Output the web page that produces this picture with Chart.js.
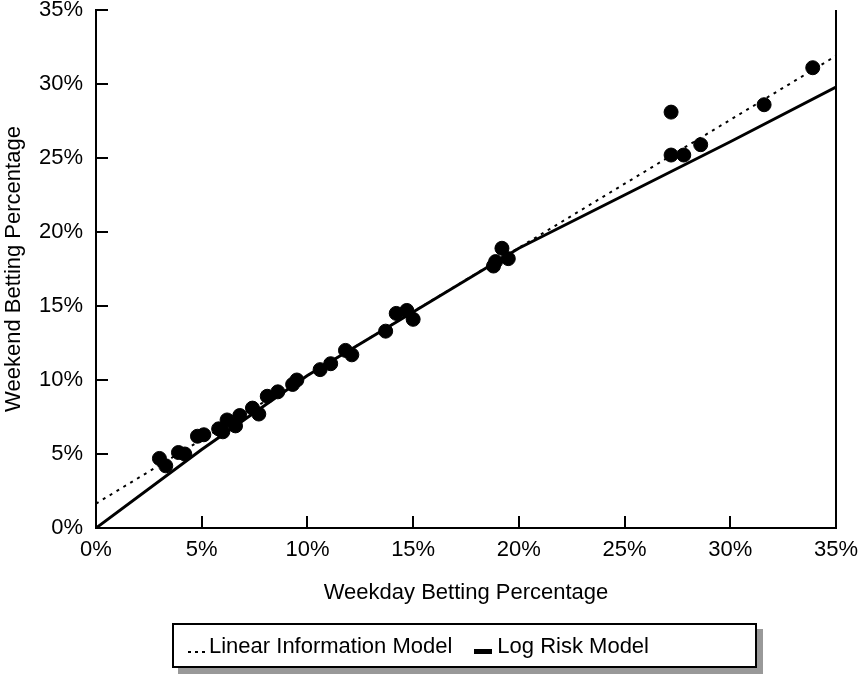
<!DOCTYPE html>
<html lang="en">
<head>
    <meta charset="UTF-8">
    <title>Weekday vs Weekend Betting Percentage</title>
    <script src="https://cdn.jsdelivr.net/npm/chart.js"></script>
    <style>
        body { margin: 0; background: #fff; font-family: "Liberation Sans", Arial, sans-serif; }
        #wrap { position: relative; width: 860px; height: 679px; }
        .legend {
            position: absolute; left: 172px; top: 623px; width: 567px; height: 41px;
            border: 2px solid #000; box-shadow: 6px 6px 0 #999; background: #fff;
            display: flex; align-items: center; padding-left: 14px;
            font-size: 22px; color: #000; white-space: nowrap;
        }
        .dots {
            display: inline-block; width: 17px; height: 2px; margin-right: 4px; margin-top: 12px;
            background: repeating-linear-gradient(to right, #000 0 3px, transparent 3px 7px);
        }
        .bar { display: inline-block; width: 18px; height: 5px; background: #000; margin: 11px 5px 0 22px; }
    </style>
</head>
<body>
<div id="wrap">
    <canvas id="grafico" width="860" height="679"></canvas>
    <div class="legend">
        <span class="dots"></span>Linear Information Model<span class="bar"></span>Log Risk Model
    </div>
</div>

<script>
    // observed points (percent)
    const weekday = [3.0, 3.3, 3.9, 4.2, 4.8, 5.1, 5.8, 6.0, 6.2, 6.6, 6.8, 7.4, 7.7, 8.1, 8.6, 9.3, 9.5,
        10.6, 11.1, 11.8, 12.1, 13.7, 14.2, 14.7, 15.0, 18.8, 18.9, 19.2, 19.5, 27.2, 27.2, 27.8, 28.6, 31.6, 33.9];
    const weekend = [4.7, 4.2, 5.1, 5.0, 6.2, 6.3, 6.7, 6.5, 7.3, 6.9, 7.6, 8.1, 7.7, 8.9, 9.2, 9.7, 10.0,
        10.7, 11.1, 12.0, 11.7, 13.3, 14.5, 14.7, 14.1, 17.7, 18.0, 18.9, 18.2, 28.1, 25.2, 25.2, 25.9, 28.6, 31.1];

    // model curves
    const linearX = [0, 35];
    const linearY = [1.65, 31.9];
    const logRiskX = [0, 5, 10, 12.5, 15, 20, 25, 30, 35];
    const logRiskY = [0, 5.3, 10.3, 12.45, 14.6, 18.9, 22.5, 26.1, 29.8];

    const axisTicks = [0, 5, 10, 15, 20, 25, 30, 35];

    const pares = (xs, ys) => xs.map((v, i) => ({ x: v, y: ys[i] }));

    // right border and inward tick marks
    const moldura = {
        id: 'moldura',
        afterDraw(chart) {
            const { ctx, chartArea: a, scales: { x, y } } = chart;
            ctx.save();
            ctx.strokeStyle = '#000';
            ctx.lineWidth = 2;
            ctx.beginPath();
            ctx.moveTo(a.right, a.top);
            ctx.lineTo(a.right, a.bottom);
            axisTicks.forEach(v => {
                const px = Math.round(x.getPixelForValue(v));
                ctx.moveTo(px, a.bottom);
                ctx.lineTo(px, a.bottom - 12);
                const py = Math.round(y.getPixelForValue(v));
                ctx.moveTo(a.left, py);
                ctx.lineTo(a.left + 12, py);
            });
            ctx.stroke();
            ctx.restore();
        }
    };

    const fonte = { family: '"Liberation Sans", Arial, sans-serif', size: 22 };

    new Chart(document.getElementById('grafico').getContext('2d'), {
        type: 'scatter',
        data: {
            datasets: [
                {
                    label: 'Observed',
                    data: pares(weekday, weekend),
                    backgroundColor: '#000',
                    borderColor: '#000',
                    pointRadius: 7,
                    borderWidth: 1
                },
                {
                    label: 'Linear Information Model',
                    data: pares(linearX, linearY),
                    showLine: true,
                    borderColor: '#000',
                    borderWidth: 2,
                    borderDash: [3, 5],
                    pointRadius: 0
                },
                {
                    label: 'Log Risk Model',
                    data: pares(logRiskX, logRiskY),
                    showLine: true,
                    borderColor: '#000',
                    borderWidth: 3,
                    pointRadius: 0
                }
            ]
        },
        options: {
            responsive: false,
            animation: false,
            layout: { padding: { left: 0, top: 10, right: 24, bottom: 70 } },
            plugins: { legend: { display: false }, tooltip: { enabled: false } },
            scales: {
                x: {
                    type: 'linear', min: 0, max: 35,
                    afterFit: s => { s.height = 81; s.paddingLeft = 0; s.paddingRight = 0; },
                    grid: { display: false, drawTicks: false },
                    border: { display: true, color: '#000', width: 2 },
                    ticks: { stepSize: 5, color: '#000', font: fonte, padding: 9, callback: v => v + '%' },
                    title: { display: true, text: 'Weekday Betting Percentage', color: '#000', font: fonte, padding: { top: 0, bottom: 3 } }
                },
                y: {
                    type: 'linear', min: 0, max: 35,
                    afterFit: s => { s.width = 96; s.paddingTop = 0; s.paddingBottom = 0; },
                    grid: { display: false, drawTicks: false },
                    border: { display: true, color: '#000', width: 2 },
                    ticks: { stepSize: 5, color: '#000', font: fonte, padding: 13, callback: v => v + '%' },
                    title: { display: true, text: 'Weekend Betting Percentage', color: '#000', font: fonte, padding: { top: 1, bottom: 0 } }
                }
            }
        },
        plugins: [moldura]
    });
</script>
</body>
</html>
